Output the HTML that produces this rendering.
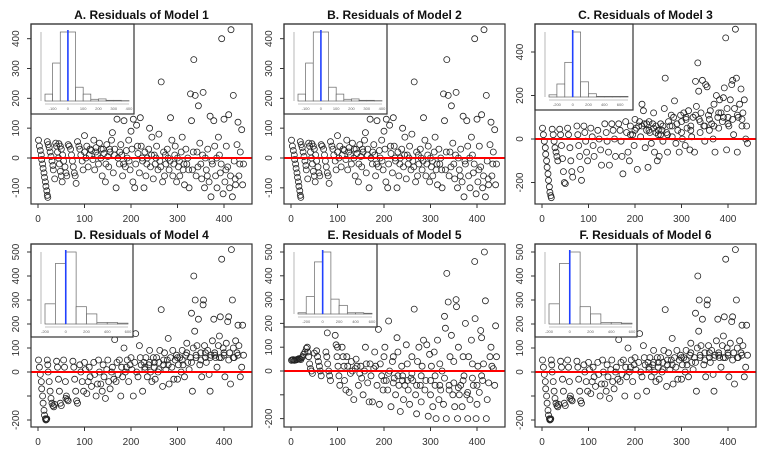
<!DOCTYPE html>
<html><head><meta charset="utf-8">
<style>
html,body{margin:0;padding:0;background:#fff;}
svg{display:block;font-family:"Liberation Sans",Arial,sans-serif;}
</style></head>
<body>
<svg id="c" width="764" height="453" viewBox="0 0 764 453"></svg>
<script>
// ---- Data: Model 1 / 2 residuals  [index, residual] ----
const aPts=[[1,60],[3,40],[5,25],[7,10],[8,-5],[10,-20],[11,-35],[13,-50],[14,-65],[16,-80],[17,-95],[19,-110],[20,-125],[21,-132],
[20,55],[22,45],[24,35],[26,20],[28,5],[30,-10],[32,-25],[33,-40],
[38,50],[40,40],[42,20],[44,0],[46,-20],[48,-45],[50,-60],[52,-80],[36,-70],
[45,48],[48,40],[50,30],[53,10],[55,-10],[58,-30],[60,-50],[62,-60],
[65,45],[67,40],[70,30],[72,10],[74,-10],[76,-30],[78,-50],[80,-60],[82,-85],
[85,55],[88,40],[90,30],[92,10],[95,-10],[97,-40],[100,75],[100,20],[103,0],[105,40],[108,-30],[110,10],[112,30],[115,25],[118,-5],[120,60],[122,-40],[124,20],[125,35],[128,10],[130,-20],[132,50],[135,0],[136,30],[138,-60],[140,30],[142,15],[145,-80],[146,-20],[148,45],[150,5],[152,-30],[154,30],[155,20],[158,60],[160,85],[162,-50],[164,10],[165,30],[168,-100],[170,130],[172,0],[175,-20],[176,20],[178,45],[180,10],[182,-60],[184,-20],[185,125],[188,-30],[190,25],[192,0],[195,60],[196,-10],[198,-40],[200,90],[202,30],[204,-80],[205,130],[208,-100],[210,-20],[212,110],[214,40],[215,15],[218,-50],[220,135],[222,40],[224,0],[225,-10],[228,-100],[230,20],[232,-60],[234,-20],[235,0],[238,30],[240,100],[242,-30],[244,10],[245,70],[248,-70],[250,10],[252,-20],[254,0],[255,40],[258,-40],[260,80],[262,-10],[264,-30],[265,255],[268,-80],[270,20],[272,-60],[274,10],[275,-20],[278,30],[280,0],[282,-40],[284,-10],[285,135],[288,60],[290,-60],[292,-20],[294,10],[295,40],[298,-80],[300,0],[302,-30],[304,-10],[305,-60],[308,20],[310,70],[312,-40],[314,-20],[315,-90],[318,30],[320,-20],[322,0],[324,-40],[325,-100],[328,215],[330,125],[332,-40],[334,20],[335,330],[338,210],[340,-60],[342,20],[344,-30],[345,175],[348,50],[350,-20],[352,-70],[354,10],[355,220],[358,-100],[360,0],[362,-40],[364,-60],[365,30],[368,-80],[370,140],[372,-130],[374,-10],[375,-20],[378,125],[380,40],[382,-60],[384,0],[385,-100],[388,70],[390,10],[392,-50],[394,-20],[395,400],[398,-120],[400,130],[402,-80],[404,-40],[405,40],[408,-30],[410,145],[412,-100],[414,-60],[415,430],[418,-130],[420,210],[422,-10],[424,-70],[425,-90],[428,45],[430,120],[432,-60],[434,-20],[435,20],[438,95],[440,-90],[442,-20]];
// ---- Model 3 ----
const cPts=[[1,50],[3,20],[5,-10],[7,-40],[8,-70],[10,-100],[11,-130],[13,-160],[14,-190],[16,-220],[17,-245],[19,-260],[20,-270],
[22,45],[24,20],[26,-10],[28,-40],[30,-60],[32,-80],[34,-100],
[38,45],[40,20],[42,-30],[44,-90],[46,-150],[48,-200],[50,-205],
[55,50],[57,20],[60,-40],[62,-100],[64,-150],[66,-175],
[75,60],[77,20],[79,-30],[81,-80],[83,-140],[85,-190],
[90,60],[92,30],[94,-10],[96,-60],[98,-100],[105,50],[108,10],[110,-30],[112,-80],[120,40],[123,0],[126,-50],[128,-120],[135,70],[138,30],[140,-10],[143,-60],[145,-120],[150,70],[153,40],[156,0],[158,-80],[165,70],[168,40],[170,-10],[172,-80],[174,-160],
[180,80],[182,30],[185,-60],[188,-100],[190,60],[195,20],[198,-30],[200,90],[203,50],[205,-140],[208,60],[210,80],[212,10],[215,160],[218,130],[220,70],[222,-40],[225,40],[228,-130],[230,80],[232,30],[235,-20],[238,70],[240,120],[242,-60],[245,60],[248,-100],[250,20],[252,-80],[255,70],[258,40],[260,-10],[263,140],[265,280],[268,30],[270,-60],[272,80],[275,60],[278,110],[280,10],[283,100],[285,175],[288,-20],[290,70],[292,40],[295,-60],[298,110],[300,30],[302,0],[305,120],[308,-30],[310,90],[312,50],[315,130],[318,-50],[320,60],[322,10],[325,100],[328,-60],[330,265],[332,150],[335,350],[337,220],[338,90],[340,30],[342,120],[345,270],[348,60],[350,-10],[352,250],[355,240],[358,110],[360,40],[362,130],[365,70],[368,0],[370,160],[372,-60],[375,200],[378,100],[380,50],[382,180],[385,120],[388,80],[390,190],[392,235],[395,465],[397,-50],[398,140],[400,100],[402,60],[405,180],[408,250],[410,270],[412,20],[414,140],[416,505],[418,280],[420,-60],[422,100],[425,160],[428,230],[430,60],[432,120],[435,180],[438,0],[440,60],[442,-20],
[300,80],[310,100],[320,40],[330,110],[340,80],[350,60],[360,90],[370,60],[380,120],[390,100],[400,70],[410,90],[420,110],[430,90],[250,40],[260,60],[270,20],[280,60],[240,50],[230,40],[200,40],[190,20],[215,60],[225,70],[245,30],[255,20]];
// ---- Model 4 / 6 ----
const dPts=[[1,50],[3,20],[5,-10],[7,-40],[8,-70],[10,-100],[11,-130],[13,-160],[14,-180],[16,-195],[17,-200],[18,-198],[19,-195],
[20,50],[21,30],[22,0],[24,-40],[26,-80],[28,-110],[30,-130],[32,-140],[34,-145],[36,-135],
[40,45],[42,20],[44,-30],[46,-80],[48,-130],[50,-140],
[55,50],[57,20],[59,-40],[61,-100],[63,-115],[65,-120],[60,-110],
[75,45],[77,20],[79,-30],[81,-80],[83,-120],[85,-130],
[90,30],[92,0],[95,-40],[98,-80],[100,40],[102,10],[105,-90],[108,-40],[110,20],[112,-20],[115,-60],[120,40],[122,-10],[125,-100],[128,-50],[130,50],[132,0],[135,-50],[138,-80],[140,30],[142,-20],[145,-110],[148,10],[150,50],[152,-40],[155,-70],[158,0],[160,20],[163,-30],[165,135],[168,-40],[170,40],[172,-10],[175,50],[178,-100],[180,20],[182,-20],[185,100],[188,0],[190,20],[192,50],[195,-40],[198,30],[200,60],[202,10],[205,-100],[208,40],[210,160],[212,0],[215,-20],[218,110],[220,60],[222,30],[225,-80],[228,40],[230,10],[232,60],[235,-20],[238,30],[240,90],[242,0],[245,-40],[248,60],[250,20],[252,-30],[255,60],[258,0],[260,40],[262,90],[265,260],[268,-60],[270,30],[272,80],[275,10],[278,50],[280,140],[282,-50],[285,60],[288,20],[290,90],[292,-30],[295,50],[298,70],[300,-30],[302,30],[305,60],[308,0],[310,90],[312,30],[315,-20],[318,70],[320,120],[322,40],[325,10],[328,60],[330,245],[332,-80],[334,100],[335,400],[337,170],[338,300],[340,60],[342,110],[345,220],[348,30],[350,80],[352,-20],[355,280],[356,300],[358,110],[360,60],[362,40],[365,90],[368,-10],[370,-80],[372,70],[375,130],[378,220],[380,80],[382,60],[385,20],[388,110],[390,150],[392,230],[394,60],[395,470],[398,100],[400,70],[402,-20],[405,120],[408,210],[410,230],[412,80],[414,-50],[416,510],[418,300],[420,100],[422,60],[425,130],[428,80],[430,195],[432,110],[435,-20],[438,20],[440,195],[442,70],
[300,60],[310,50],[320,80],[330,40],[340,70],[350,50],[360,80],[370,60],[380,70],[390,60],[400,80],[410,50],[420,60],[430,70],[250,40],[260,10],[270,50],[280,30],[240,40],[230,20]];
// ---- Model 5 ----
const ePts=[[1,45],[3,47],[5,48],[7,45],[9,46],[11,47],[13,48],[15,50],[17,52],[19,50],[21,48],[23,55],[25,60],[27,70],[30,80],[33,95],[35,100],[36,80],[38,60],[40,30],[42,10],[44,0],[46,-10],
[50,75],[55,85],[57,60],[59,40],[61,20],[63,0],[65,-20],[75,80],[77,60],[79,30],[81,0],[83,-20],[85,-40],[78,160],
[95,150],[97,110],[99,60],[101,20],[103,-20],[105,-60],[100,100],
[110,100],[112,60],[114,20],[115,-40],[118,-80],[120,60],[122,20],[125,-90],[128,-10],[130,40],[132,0],[135,-120],[138,10],[140,50],[142,20],[145,-60],[148,-10],[150,20],[152,-30],[155,-100],[158,0],[160,100],[162,30],[165,-50],[168,-130],[170,30],[172,-20],[175,-130],[178,10],[180,80],[182,20],[185,-60],[188,175],[190,-140],[192,30],[195,-20],[198,-80],[200,60],[202,100],[205,-40],[208,-80],[210,210],[212,0],[215,-150],[218,40],[220,60],[222,-30],[225,-100],[228,140],[230,80],[232,-60],[235,-170],[238,20],[240,-20],[242,-120],[245,-60],[248,110],[250,30],[252,-80],[255,-140],[258,-30],[260,60],[262,-40],[265,260],[268,-100],[270,-180],[272,40],[275,100],[278,-60],[280,-130],[282,20],[285,130],[288,-80],[290,-40],[292,110],[295,-190],[298,70],[300,-100],[302,20],[305,-150],[308,80],[310,-60],[312,-200],[315,130],[318,-120],[320,30],[322,-80],[325,0],[328,-140],[330,230],[332,180],[334,-200],[335,410],[338,290],[340,-60],[342,60],[345,150],[348,-100],[350,40],[352,-150],[355,300],[356,270],[358,-200],[360,100],[362,-100],[365,-60],[368,-150],[370,60],[372,-20],[375,200],[378,-100],[380,-200],[382,60],[385,-120],[388,130],[390,30],[392,-60],[395,460],[396,220],[398,-200],[400,-140],[402,20],[405,-90],[408,170],[410,140],[412,-40],[414,30],[416,500],[418,295],[420,-200],[422,-120],[425,-50],[428,60],[430,100],[432,20],[435,10],[438,-60],[440,190],[442,60],
[300,-40],[310,-20],[320,-60],[330,-30],[340,-80],[350,-50],[360,-70],[370,-40],[380,-90],[390,-30],[400,-60],[410,-20],[250,-40],[260,-10],[270,-60],[280,-20],[240,-40],[230,-20],[220,-50],[210,-10],[200,-40]];
// histogram counts
const hA=[20,110,200,200,40,20,5,6,2,2,1], hAlo=-150, hAw=50;
const hC=[10,60,160,300,70,15,3,3,3,3], hClo=-300, hCw=100;
const hD=[70,210,250,60,35,5,5,3], hDlo=-200, hDw=100;
const hE=[5,70,210,250,60,35,5,5,3], hElo=-300, hEw=100;
const ticksA=[-100,0,100,200,300,400], ticksC=[-200,0,200,400], ticksD=[-200,-100,0,100,200,300,400,500];
const xTicks=[0,100,200,300,400];
const tA=[-100,0,100,200,300,400], tC=[-200,0,200,400,600,800], tD=[-200,0,200,400,600];

const NS="http://www.w3.org/2000/svg", svg=document.getElementById('c');
function mk(tag,attrs,parent,text){const e=document.createElementNS(NS,tag);for(const k in attrs)e.setAttribute(k,attrs[k]);if(text!==undefined)e.textContent=text;(parent||svg).appendChild(e);return e;}

function panel(id,title,L,T,B,y0,ky,P,yt,hist,hlo,hw,htick,insH,insW){
  const W=221;
  const g=mk('g',{});
  
  
  const t=mk('text',{x:L+W/2,y:T-5,'text-anchor':'middle','font-size':'12','font-weight':'bold',fill:'#111'},g,title);
  
  
  const px=v=>L+7+v*0.465, py=v=>y0-v*ky;
  const pg=mk('g',{fill:'none',stroke:'#222','stroke-width':'0.8'},g);
  
  
  for(let i=0;i<P.length;i++){
    const yy=py(P[i][1]); if(yy<T+2||yy>B-2) continue;
    const c=mk('circle',{cx:px(P[i][0]).toFixed(1),cy:yy.toFixed(1),r:3},pg);
    
    
  }
  const rl=mk('line',{x1:L,x2:L+W,y1:py(0),y2:py(0),stroke:'#f00','stroke-width':'2'},g);
  
  
  const ig=mk('g',{},g);
  
  
  mk('rect',{x:L,y:T,width:insW,height:insH,fill:'#fff',stroke:'#333','stroke-width':'1.2'},ig);
  const hl=L+14,hr=L+insW-5,ht=T+8,hb=T+insH-13;
  const max=Math.max(...hist), bw=(hr-hl)/hist.length;
  const hx=v=>hl+(v-hlo)/hw*bw;
  for(let i=0;i<hist.length;i++){
    const h=hist[i]/max*(hb-ht);
    const r=mk('rect',{x:hl+i*bw,y:hb-h,width:bw,height:h,fill:'#fff',stroke:'#666','stroke-width':'0.7'},ig);
    
    
  }
  mk('line',{x1:hx(0),x2:hx(0),y1:ht-2,y2:hb,stroke:'#2040ff','stroke-width':'1.6'},ig);
  mk('line',{x1:hl-4,x2:hl-4,y1:ht,y2:hb,stroke:'#888','stroke-width':'0.6'},ig);
  mk('line',{x1:hl,x2:hr,y1:hb+3,y2:hb+3,stroke:'#888','stroke-width':'0.6'},ig);
  htick.forEach(v=>{const x=hx(v);if(x<hl-2||x>hr+2)return;mk('text',{x:x,y:hb+9,'text-anchor':'middle','font-size':'4',fill:'#666'},ig,String(v));});
  mk('rect',{x:L,y:T,width:W,height:B-T,fill:'none',stroke:'#333','stroke-width':'1.2'},g);
  xTicks.forEach(v=>{const x=px(v);mk('line',{x1:x,x2:x,y1:B,y2:B+4,stroke:'#333'},g);
    const l=mk('text',{x:x,y:B+18,'text-anchor':'middle','font-size':'10',fill:'#333'},g,String(v));
    });
  yt.forEach(v=>{const y=py(v);if(y<T||y>B)return;mk('line',{x1:L-4,x2:L,y1:y,y2:y,stroke:'#333'},g);
    if(v===-100&&yt.length>6)return;
    const l=mk('text',{x:L-12,y:y,'text-anchor':'middle','font-size':'10',fill:'#333',transform:`rotate(-90 ${L-12} ${y})`},g,String(v));
    });
}
panel('a','A. Residuals of Model 1',31,24,204,158,0.2983,aPts,ticksA,hA,hAlo,hAw,tA,90,103);
panel('b','B. Residuals of Model 2',284,24,204,158,0.2983,aPts,ticksA,hA,hAlo,hAw,tA,90,103);
panel('c','C. Residuals of Model 3',535,24,204,139,0.2175,cPts,ticksC,hC,hClo,hCw,tC,86,98);
panel('d','D. Residuals of Model 4',31,244,427,372,0.24,dPts,ticksD,hD,hDlo,hDw,tD,93,102);
panel('e','E. Residuals of Model 5',284,244,427,371,0.238,ePts,ticksD,hE,hElo,hEw,tC,83,93);
panel('f','F. Residuals of Model 6',535,244,427,372,0.24,dPts,ticksD,hD,hDlo,hDw,tD,93,102);
</script>
</body></html>
